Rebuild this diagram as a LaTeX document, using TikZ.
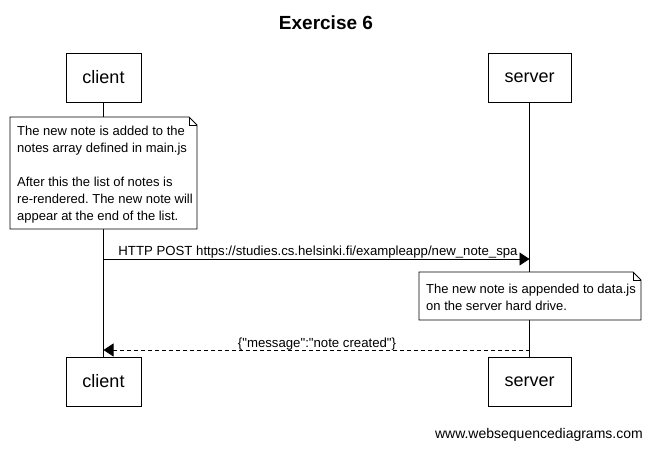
\documentclass[tikz,border=0pt]{standalone}
\usepackage{fontspec}
\setmainfont{Liberation Sans}[Ligatures=TeXOff]
\usetikzlibrary{arrows.meta}
\frenchspacing
\tikzset{
  actor/.style={draw, line width=0.8pt, minimum width=75pt, minimum height=49pt, inner sep=0pt, font=\fontsize{18}{20}\selectfont},
  life/.style={line width=0.8pt},
  notebox/.style={draw, line width=0.8pt, fill=white},
  notetext/.style={anchor=north west, align=left, inner sep=0pt, font=\fontsize{13}{17}\selectfont},
  msg/.style={line width=0.8pt, -{Triangle[length=10pt,width=13pt]}},
  msglabel/.style={anchor=base, inner sep=0pt, font=\fontsize{13.2}{15}\selectfont},
}
\begin{document}
\begin{tikzpicture}[x=1pt,y=-1pt]
\useasboundingbox (0,0) rectangle (652,448);
\node[anchor=base, font=\fontsize{19}{22}\selectfont\bfseries] (title) at (326,29) {Exercise 6};
\node[actor] (c1) at (103.5,77.5) {client};
\node[actor, minimum width=83pt] (s1) at (529.5,77.5) {server};
\node[actor] (c2) at (103.5,381.5) {client};
\node[actor, minimum width=83pt] (s2) at (529.5,381.5) {server};
\draw[life] (c1.south) -- (c2.north);
\draw[life] (s1.south) -- (s2.north);
% note 1
\draw[notebox] (10,117) -- (189,117) -- (197,125) -- (197,229) -- (10,229) -- cycle;
\draw[line width=0.6pt] (189,117) -- (189,125) -- (197,125);
\node[notetext] (n1) at (17,126) {The new note is added to the\\notes array defined in main.js\\[17pt]After this the list of notes is\\re-rendered. The new note will\\appear at the end of the list.};
% message 1
\coordinate (m1a) at (c1.south |- 0,259);
\coordinate (m1b) at (s1.south |- 0,259);
\draw[msg] (m1a) -- (m1b);
\node[msglabel] (l1) at (318,255) {HTTP POST https://studies.cs.helsinki.fi/exampleapp/new\_note\_spa};
% note 2
\draw[notebox] (419,272) -- (633,272) -- (641,280) -- (641,320) -- (419,320) -- cycle;
\draw[line width=0.6pt] (633,272) -- (633,280) -- (641,280);
\node[notetext] (n2) at (426,284) {The new note is appended to data.js\\on the server hard drive.};
% message 2
\coordinate (m2a) at (s1.south |- 0,350);
\coordinate (m2b) at (c1.south |- 0,350);
\draw[msg, dash pattern=on 4pt off 3pt] (m2a) -- (m2b);
\node[msglabel] (l2) at (317,347) {\{"message":"note created"\}};
\node[anchor=base east, inner sep=0pt, font=\fontsize{14}{16}\selectfont] (wm) at (643,438) {www.websequencediagrams.com};
\end{tikzpicture}
\end{document}
